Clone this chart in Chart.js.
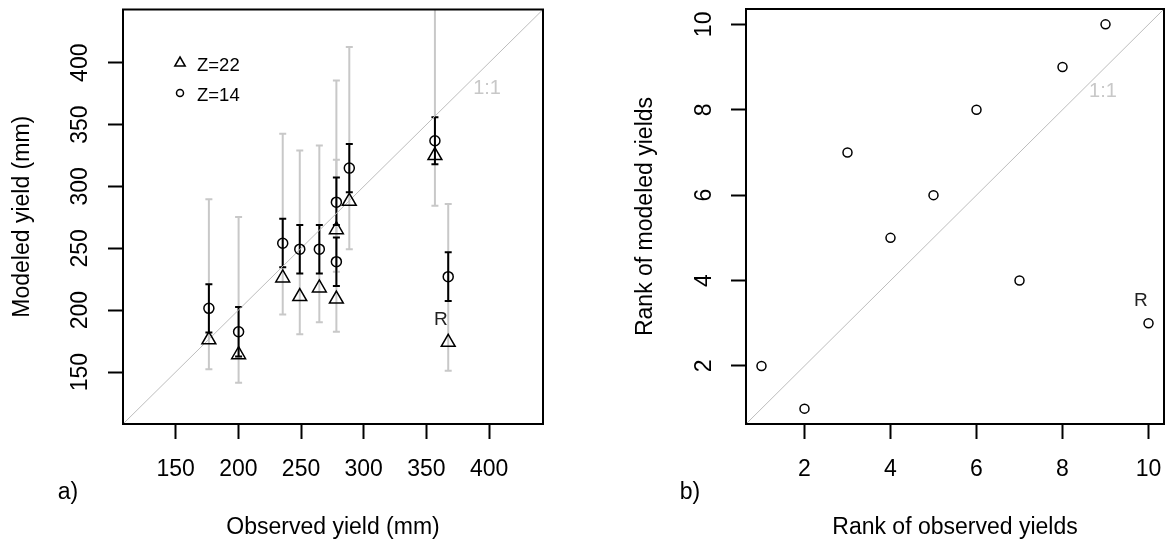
<!DOCTYPE html>
<html lang="en">
  <head>
    <meta charset="UTF-8" />
    <title>Modeled vs observed yield</title>
    <script src="https://cdn.jsdelivr.net/npm/chart.js"></script>
    <style>
      body { margin: 0; background: #fff; }
      #wrap { position: relative; width: 1170px; height: 546px; }
      canvas { position: absolute; top: 0; }
      #leftChart { left: 0; }
      #rightChart { left: 585px; }
    </style>
  </head>
  <body>
    <div id="wrap">
      <canvas id="leftChart" width="585" height="546"></canvas>
      <canvas id="rightChart" width="585" height="546"></canvas>
    </div>
    <script>
      // observed yield (mm), one value per case
      var observed = [176.5, 200.2, 235.4, 249.0, 264.6, 278.2, 278.2, 288.5, 356.8, 367.4];
      // modeled yield, Z=22 (triangles) and Z=14 (circles)
      var modeledZ22 = [176, 164, 226, 211, 218, 265, 209, 288, 325, 174];
      var modeledZ14 = [201.5, 182.6, 254.1, 249.3, 249.3, 287.3, 239.2, 314.8, 336.9, 227.1];
      // black bars around Z=14
      var z14Low = [182, 162.6, 234.7, 229.6, 229.6, 268.9, 219.6, 295.4, 318, 207.4];
      var z14High = [221, 202.6, 273.8, 268.9, 268.9, 307.2, 258.7, 334.2, 356, 246.8];
      // grey bars (full range)
      var rangeLow = [152.2, 141.4, 196.4, 180.5, 190.2, 231.1, 182.6, 249.3, 284.3, 151.1];
      var rangeHigh = [289.7, 275.2, 342.6, 329.0, 333.1, 385.7, 321.5, 412.7, 480, 285.9];
      var yieldTicks = [150, 200, 250, 300, 350, 400];
      var yieldMin = 108, yieldMax = 443;

      // ranks (panel b)
      var observedRank = [1, 2, 3, 4, 5, 6, 7, 8, 9, 10];
      var modeledRank = [2, 1, 7, 5, 6, 8, 4, 9, 10, 3];
      var rankTicks = [2, 4, 6, 8, 10];
      var rankMin = 0.64, rankMax = 10.36;

      Chart.defaults.font.family = "'Liberation Sans', Arial, sans-serif";
      Chart.defaults.color = "#000";

      var GREY = "#c8c8c8";

      // error bars drawn through the chart scales
      var errorBars = {
        id: "errorBars",
        beforeDatasetsDraw: function (chart, args, opts) {
          if (!opts.bars) return;
          var ctx = chart.ctx, a = chart.chartArea;
          var xs = chart.scales.x, ys = chart.scales.y;
          ctx.save();
          ctx.beginPath();
          ctx.rect(a.left, a.top, a.right - a.left, a.bottom - a.top);
          ctx.clip();
          opts.bars.forEach(function (b) {
            ctx.strokeStyle = b.color;
            ctx.lineWidth = b.width;
            for (var i = 0; i < observed.length; i++) {
              var x = xs.getPixelForValue(observed[i]);
              var y1 = ys.getPixelForValue(b.low[i]);
              var y2 = ys.getPixelForValue(b.high[i]);
              ctx.beginPath();
              ctx.moveTo(x, y1); ctx.lineTo(x, y2);
              ctx.moveTo(x - 3.5, y1); ctx.lineTo(x + 3.5, y1);
              ctx.moveTo(x - 3.5, y2); ctx.lineTo(x + 3.5, y2);
              ctx.stroke();
            }
          });
          ctx.restore();
        }
      };

      // box around plot, text notes, panel tag, legend
      var frame = {
        id: "frame",
        afterDraw: function (chart, args, opts) {
          var ctx = chart.ctx, a = chart.chartArea;
          ctx.save();
          ctx.strokeStyle = "#000";
          ctx.lineWidth = 2;
          ctx.strokeRect(a.left, a.top, a.right - a.left, a.bottom - a.top);
          ctx.textAlign = "center";
          ctx.textBaseline = "middle";
          (opts.notes || []).forEach(function (n) {
            ctx.font = n.size + "px 'Liberation Sans', Arial, sans-serif";
            ctx.fillStyle = n.color;
            ctx.fillText(n.text, chart.scales.x.getPixelForValue(n.x), chart.scales.y.getPixelForValue(n.y));
          });
          ctx.font = "23px 'Liberation Sans', Arial, sans-serif";
          ctx.fillStyle = "#000";
          ctx.fillText(opts.tag, opts.tagPos[0], opts.tagPos[1]);
          if (opts.legend) {
            ctx.lineWidth = 1.5;
            ctx.beginPath();
            ctx.moveTo(180, 57); ctx.lineTo(185.2, 66); ctx.lineTo(174.8, 66); ctx.closePath();
            ctx.stroke();
            ctx.beginPath();
            ctx.arc(180, 93, 3.5, 0, Math.PI * 2);
            ctx.stroke();
            ctx.textAlign = "left";
            ctx.font = "18.5px 'Liberation Sans', Arial, sans-serif";
            ctx.fillText("Z=22", 197, 66);
            ctx.fillText("Z=14", 197, 96);
          }
          ctx.restore();
        }
      };

      function xAxis(min, max, ticks, title) {
        return {
          type: "linear", position: "bottom", min: min, max: max,
          afterBuildTicks: function (s) { s.ticks = ticks.map(function (v) { return { value: v }; }); },
          afterFit: function (s) { s.height = 122; s.paddingLeft = 0; s.paddingRight = 0; },
          grid: { drawOnChartArea: false, drawTicks: true, tickLength: 15, tickColor: "#000", tickWidth: 2 },
          border: { display: false },
          ticks: { autoSkip: false, maxRotation: 0, padding: 17, font: { size: 23 } },
          title: { display: true, text: title, font: { size: 23 }, padding: { top: 0, bottom: 5 } }
        };
      }

      function yAxis(min, max, ticks, title, width, labelPad, titlePad) {
        return {
          type: "linear", position: "left", min: min, max: max,
          afterBuildTicks: function (s) { s.ticks = ticks.map(function (v) { return { value: v }; }); },
          afterFit: function (s) { s.width = width; s.paddingTop = 0; s.paddingBottom = 0; },
          grid: { drawOnChartArea: false, drawTicks: true, tickLength: 15, tickColor: "#000", tickWidth: 2 },
          border: { display: false },
          ticks: { autoSkip: false, minRotation: 90, maxRotation: 90, crossAlign: "center", padding: labelPad, font: { size: 23 } },
          title: { display: true, text: title, font: { size: 23 }, padding: { top: titlePad, bottom: 0 } }
        };
      }

      function pts(xv, yv) {
        return xv.map(function (v, i) { return { x: v, y: yv[i] }; });
      }

      new Chart(document.getElementById("leftChart"), {
        type: "scatter",
        data: {
          datasets: [
            {
              label: "Z=22", data: pts(observed, modeledZ22), pointStyle: "triangle",
              pointRadius: 8, borderColor: "#000", backgroundColor: "rgba(0,0,0,0)", borderWidth: 1.5
            },
            {
              label: "Z=14", data: pts(observed, modeledZ14), pointStyle: "circle",
              pointRadius: 5, borderColor: "#000", backgroundColor: "rgba(0,0,0,0)", borderWidth: 1.5
            },
            {
              type: "line", label: "1:1", data: pts([yieldMin, yieldMax], [yieldMin, yieldMax]),
              borderColor: "#bdbdbd", borderWidth: 1, pointRadius: 0, fill: false
            }
          ]
        },
        options: {
          responsive: false, animation: false, devicePixelRatio: 1,
          layout: { padding: { left: 0, top: 9, right: 42, bottom: 0 } },
          scales: {
            x: xAxis(yieldMin, yieldMax, yieldTicks, "Observed yield (mm)"),
            y: yAxis(yieldMin, yieldMax, yieldTicks, "Modeled yield (mm)", 123, 8, 9)
          },
          plugins: {
            legend: { display: false },
            tooltip: { enabled: false },
            errorBars: {
              bars: [
                { low: rangeLow, high: rangeHigh, color: GREY, width: 2 },
                { low: z14Low, high: z14High, color: "#000", width: 2 }
              ]
            },
            frame: {
              notes: [
                { text: "1:1", x: 398.4, y: 379, size: 20, color: GREY },
                { text: "R", x: 361.5, y: 192, size: 19, color: "#222" }
              ],
              tag: "a)", tagPos: [68, 493], legend: true
            }
          }
        },
        plugins: [errorBars, frame]
      });

      new Chart(document.getElementById("rightChart"), {
        type: "scatter",
        data: {
          datasets: [
            {
              label: "ranks", data: pts(observedRank, modeledRank), pointStyle: "circle",
              pointRadius: 4.5, borderColor: "#000", backgroundColor: "rgba(0,0,0,0)", borderWidth: 1.5
            },
            {
              type: "line", label: "1:1", data: pts([rankMin, rankMax], [rankMin, rankMax]),
              borderColor: "#bdbdbd", borderWidth: 1, pointRadius: 0, fill: false
            }
          ]
        },
        options: {
          responsive: false, animation: false, devicePixelRatio: 1,
          layout: { padding: { left: 0, top: 9, right: 3, bottom: 0 } },
          scales: {
            x: xAxis(rankMin, rankMax, rankTicks, "Rank of observed yields"),
            y: yAxis(rankMin, rankMax, rankTicks, "Rank of modeled yields", 161, 14, 47)
          },
          plugins: {
            legend: { display: false },
            tooltip: { enabled: false },
            frame: {
              notes: [
                { text: "1:1", x: 8.94, y: 8.42, size: 20, color: GREY },
                { text: "R", x: 9.82, y: 3.53, size: 19, color: "#222" }
              ],
              tag: "b)", tagPos: [105, 493], legend: false
            }
          }
        },
        plugins: [errorBars, frame]
      });
    </script>
  </body>
</html>
